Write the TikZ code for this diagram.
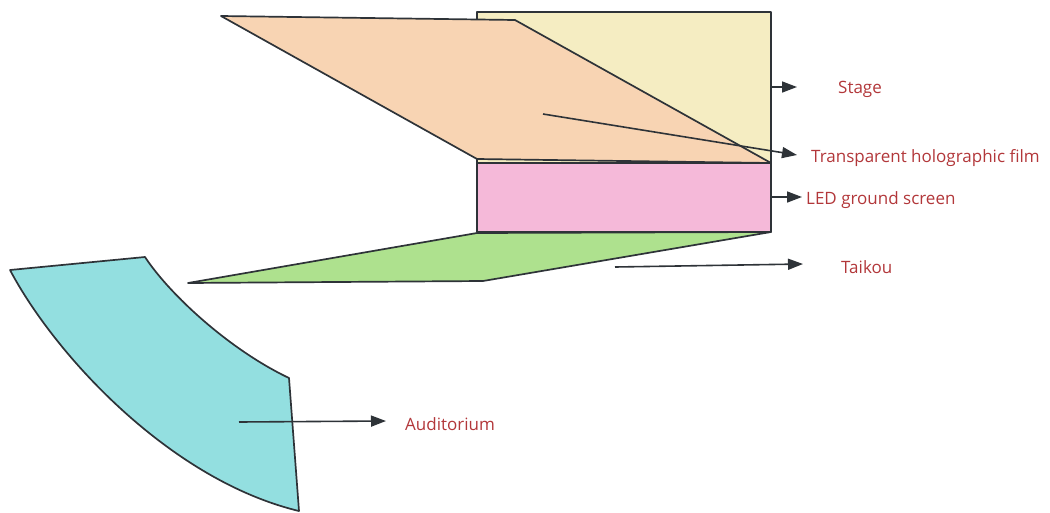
\documentclass[tikz,border=0pt]{standalone}
\usepackage{fontspec}
\setmainfont{Open Sans}
\usetikzlibrary{arrows.meta}
\definecolor{edge}{HTML}{2E3338}
\definecolor{stagefill}{HTML}{F5EDC2}
\definecolor{filmfill}{HTML}{F8D4B3}
\definecolor{ledfill}{HTML}{F5B9D9}
\definecolor{taikoufill}{HTML}{AEE18E}
\definecolor{audfill}{HTML}{93DFE0}
\definecolor{labelred}{HTML}{B2373A}
\tikzset{
  part/.style={draw=edge, line width=1.7pt, line join=round},
  pointer/.style={draw=edge, line width=1.6pt, -{Triangle[length=15pt,width=11pt]}},
  tag/.style={text=labelred, font=\fontsize{17}{20}\selectfont, inner sep=0pt, anchor=west}
}
\begin{document}
\begin{tikzpicture}[x=1pt, y=-1pt]
\useasboundingbox (0,0) rectangle (1050,512);

% stage block behind the film
\path[part, fill=stagefill] (477,12) rectangle (771,163);
% slanted holographic film
\path[part, fill=filmfill] (221,16) -- (515,20) -- (771,163) -- (477,159) -- cycle;
% LED ground screen
\path[part, fill=ledfill] (477,163) rectangle (771,232);
% taikou platform
\path[part, fill=taikoufill] (477,233) -- (771,232) -- (483,281) -- (188,283) -- cycle;
% auditorium sector
\path[part, fill=audfill] (10,270) -- (145,257)
  .. controls (170,295) and (230,350) .. (289,378)
  -- (299,511)
  .. controls (170,480) and (55,355) .. (10,270) -- cycle;

% arrow anchors
\coordinate (stageA) at (771,87);
\coordinate (stageB) at (797,87);
\coordinate (filmA) at (543,114);
\coordinate (filmB) at (797,155);
\coordinate (ledA) at (771,197);
\coordinate (ledB) at (802,197);
\coordinate (taikouA) at (615,267);
\coordinate (taikouB) at (803,264);
\coordinate (audA) at (239,422);
\coordinate (audB) at (386,421);

% labels
\node[tag] (stage) at (838,89) {Stage};
\node[tag] (film) at (811,158) {Transparent holographic film};
\node[tag] (led) at (806,200) {LED ground screen};
\node[tag] (taikou) at (841,267) {Taikou};
\node[tag] (aud) at (405,424) {Auditorium};

% pointers
\draw[pointer] (stageA) -- (stageB);
\draw[pointer] (filmA) -- (filmB);
\draw[pointer] (ledA) -- (ledB);
\draw[pointer] (taikouA) -- (taikouB);
\draw[pointer] (audA) -- (audB);
\end{tikzpicture}
\end{document}
